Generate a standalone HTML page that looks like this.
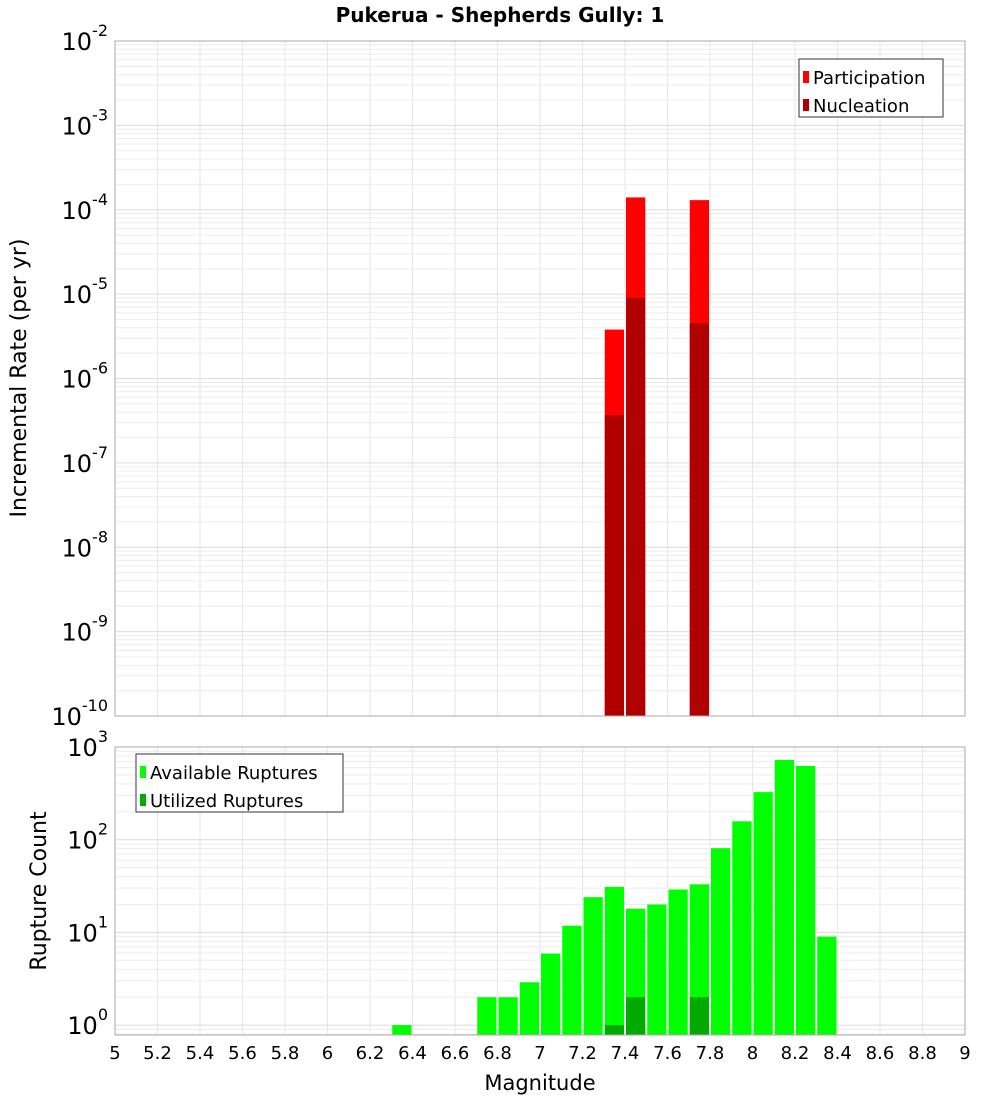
<!DOCTYPE html>
<html><head><meta charset="utf-8"><style>
body{margin:0;background:#fff;font-family:"Liberation Sans","DejaVu Sans",sans-serif}
svg text{font-family:"DejaVu Sans","Liberation Sans",sans-serif}
</style></head><body>
<svg id="c" width="1000" height="1100" xmlns="http://www.w3.org/2000/svg">
<text x="500" y="22" text-anchor="middle" font-size="20" font-weight="bold">Pukerua - Shepherds Gully: 1</text>
<g id="topg"></g><g id="botg"></g>
</svg>
<script>
const magBins=[7.35,7.45,7.75];
const participation=[3.8e-6,1.4e-4,1.3e-4];
const nucleation=[3.7e-7,9e-6,4.5e-6];
const availMags=[6.35,6.75,6.85,6.95,7.05,7.15,7.25,7.35,7.45,7.55,7.65,7.75,7.85,7.95,8.05,8.15,8.25,8.35];
const availCounts=[1,2,2,2.9,5.9,11.8,24,31,18,20,29,33,81,158,326,724,624,9];
const usedMags=[7.35,7.45,7.75];
const usedCounts=[1,2,2];
const xTicks=[5,5.2,5.4,5.6,5.8,6,6.2,6.4,6.6,6.8,7,7.2,7.4,7.6,7.8,8,8.2,8.4,8.6,8.8,9];
const topExp=[-2,-3,-4,-5,-6,-7,-8,-9,-10];
const botExp=[0,1,2,3];
const NS="http://www.w3.org/2000/svg";
const L=115,R=965;
const X=m=>L+(m-5)/4*(R-L);
const TT=41,TB=716;const Yt=v=>TT+(-2-Math.log10(v))/8*(TB-TT);
const BT=747,BB=1035;const dec=92.7;const Yb=v=>BT+(3-Math.log10(v))*dec;
function el(p,t,a){const e=document.createElementNS(NS,t);for(const k in a)e.setAttribute(k,a[k]);p.appendChild(e);return e;}
const gTop=document.getElementById('topg'),gBot=document.getElementById('botg');
function grid(g,y0,y1,yfn,e0,e1){
 for(const t of xTicks){const l=el(g,'line',{x1:X(t),x2:X(t),y1:y0,y2:y1,stroke:'#e6e6e6'});
  
  }
 for(let e=e0;e<e1;e++)for(let k=1;k<10;k++){const y=yfn(k*Math.pow(10,e));if(y<y0-0.5||y>y1+0.5)continue;const l=el(g,'line',{x1:L,x2:R,y1:y,y2:y,stroke:k==1?'#dcdcdc':'#ececec'});
  
  }
}
grid(gTop,TT,TB,Yt,-10,-2);grid(gBot,BT,BB,Yb,-1,3);
const bw=X(5.1)-X(5)-2;
magBins.forEach((m,i)=>{
 const a=el(gTop,'rect',{x:X(m)-bw/2,y:Yt(participation[i]),width:bw,height:TB-Yt(participation[i]),fill:'#ff0000'});
 
 
 const b=el(gTop,'rect',{x:X(m)-bw/2,y:Yt(nucleation[i]),width:bw,height:TB-Yt(nucleation[i]),fill:'#b00000'});
 
 
});
availMags.forEach((m,i)=>{
 const a=el(gBot,'rect',{x:X(m)-bw/2,y:Yb(availCounts[i]),width:bw,height:BB-Yb(availCounts[i]),fill:'#00ff00'});
 
 
});
usedMags.forEach((m,i)=>{
 const a=el(gBot,'rect',{x:X(m)-bw/2,y:Yb(usedCounts[i]),width:bw,height:BB-Yb(usedCounts[i]),fill:'#00aa00'});
 
 
});
const f1=el(gTop,'rect',{x:L,y:TT,width:R-L,height:TB-TT,fill:'none',stroke:'#aaa'});


const f2=el(gBot,'rect',{x:L,y:BT,width:R-L,height:BB-BT,fill:'none',stroke:'#aaa'});


function ylab(g,y,e){const t=el(g,'text',{x:108,y:y+9,'text-anchor':'end','font-size':24});
 
 
 t.innerHTML='10<tspan dy="-14" font-size="16">'+e+'</tspan>';}
topExp.forEach(e=>ylab(gTop,Yt(Math.pow(10,e)),e));
botExp.forEach(e=>ylab(gBot,Yb(Math.pow(10,e)),e));
xTicks.forEach(t=>{const s=el(gBot,'text',{x:X(t),y:1059,'text-anchor':'middle','font-size':18});s.textContent=String(t);
 
 });
function txt(g,a,s,name){const t=el(g,'text',a);t.textContent=s;
 
 return t;}
txt(gBot,{x:540,y:1090,'text-anchor':'middle','font-size':21},'Magnitude','x-axis-title');
txt(gTop,{x:26,y:378,'text-anchor':'middle','font-size':22,transform:'rotate(-90 26 378)'},'Incremental Rate (per yr)','top-y-axis-title');
txt(gBot,{x:46,y:891,'text-anchor':'middle','font-size':22,transform:'rotate(-90 46 891)'},'Rupture Count','bottom-y-axis-title');
function legend(g,x,y,w,items,name){const lg=el(g,'g',{});
 
 
 el(lg,'rect',{x:x,y:y,width:w,height:58,fill:'#fff',stroke:'#333'});
 items.forEach((it,i)=>{const yy=y+19+i*28;el(lg,'rect',{x:x+4,y:yy-7,width:6,height:12,fill:it[1]});
  txt(lg,{x:x+14,y:yy+6,'font-size':18},it[0],'legend-entry');});}
legend(gTop,799,59,144,[['Participation','#ff0000'],['Nucleation','#b00000']],'top-legend');
legend(gBot,136,754,207,[['Available Ruptures','#00ff00'],['Utilized Ruptures','#00aa00']],'bottom-legend');
</script>
</body></html>
